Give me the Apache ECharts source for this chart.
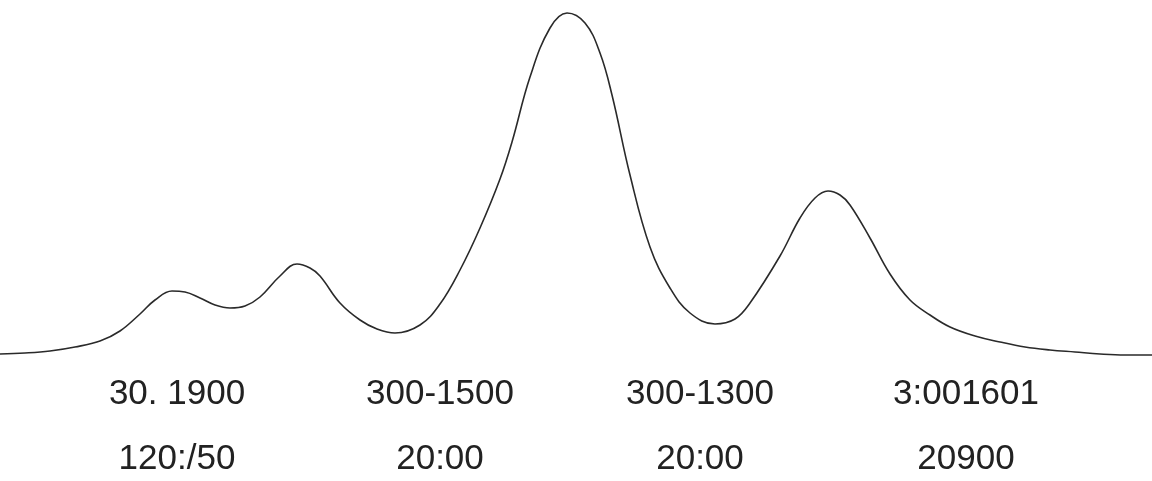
<!DOCTYPE html>
<html>
<head>
<meta charset="utf-8">
<script src="https://cdn.jsdelivr.net/npm/echarts@6/dist/echarts.min.js"></script>
<style>
  html, body { margin: 0; padding: 0; background: #ffffff; }
  #chart { width: 1152px; height: 481px; }
</style>
</head>
<body>
<div id="chart"></div>
<script>
// Curve samples: horizontal position and height above the baseline
const curveX = [0, 25, 50, 75, 100, 120, 140, 155, 172, 185, 200, 215, 230, 245, 260, 280, 297, 310, 320, 340, 360, 377, 395,
  420, 440, 460, 480, 500, 512, 530, 550, 567, 585, 600, 612, 630, 650, 670, 690, 715,
  735, 750, 780, 800, 815, 828, 840, 850, 870, 890, 910, 930, 950, 975, 1000, 1025, 1050, 1075, 1100, 1125, 1152];
const curveY = [6, 7, 9, 13, 19, 29, 46, 60, 69, 68, 62, 55, 52, 54, 63, 84, 96, 92, 84, 57, 40, 31, 27,
  35, 56, 90, 132, 181, 218, 283, 332, 347, 337, 307, 265, 185, 113, 72, 47, 36,
  41, 57, 104, 142, 162, 169, 165, 155, 122, 86, 60, 45, 33, 24, 18, 13, 10, 8, 6, 5, 5];

// Two-line labels placed under the curve
const labelAt = [177, 440, 700, 966];
const labelTop = ['30. 1900', '300-1500', '300-1300', '3:001601'];
const labelBottom = ['120:/50', '20:00', '20:00', '20900'];

const points = curveX.map((x, i) => [x, curveY[i]]);

const chart = echarts.init(document.getElementById('chart'), null, { renderer: 'canvas' });
chart.setOption({
  backgroundColor: '#ffffff',
  animation: false,
  grid: { left: 0, right: 0, top: 0, bottom: 121, containLabel: false, outerBoundsMode: 'none' },
  xAxis: {
    type: 'value',
    min: 0,
    max: 1152,
    axisLine: { show: false },
    axisTick: { show: false },
    splitLine: { show: false },
    axisLabel: {
      customValues: labelAt,
      margin: 2,
      formatter: function (v) {
        const i = labelAt.indexOf(v);
        return i < 0 ? '' : labelTop[i] + '\n' + labelBottom[i];
      },
      color: '#222222',
      fontFamily: '"Liberation Sans", Arial, sans-serif',
      fontSize: 35,
      lineHeight: 65
    }
  },
  yAxis: {
    type: 'value',
    min: 0,
    max: 360,
    show: false,
    splitLine: { show: false }
  },
  series: [{
    type: 'line',
    data: points,
    smooth: 0.4,
    showSymbol: false,
    lineStyle: { color: '#2a2a2a', width: 1.6 }
  }]
});
</script>
</body>
</html>
